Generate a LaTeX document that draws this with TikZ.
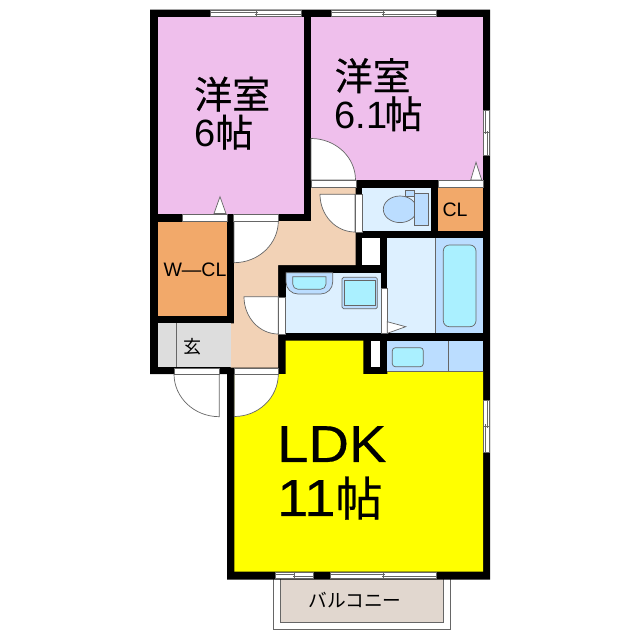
\documentclass[tikz,border=0pt]{standalone}
\usepackage{fontspec}
\setmainfont{Liberation Sans}
\newfontfamily\cjk{Noto Sans CJK JP}
\newfontfamily\cjkbig[FakeBold=0.4]{Noto Sans CJK JP}
\newfontfamily\ldkfont[FakeStretch=1.08,FakeBold=0.3]{Liberation Sans}
\definecolor{wallblack}{HTML}{000000}
\definecolor{bedpink}{HTML}{EFBFEC}
\definecolor{ldkyellow}{HTML}{FFFF00}
\definecolor{hallpeach}{HTML}{F2D2B6}
\definecolor{clorange}{HTML}{F2A96A}
\definecolor{genkangrey}{HTML}{DDDDDD}
\definecolor{wetlight}{HTML}{DDF0FF}
\definecolor{wetblue}{HTML}{BBDDFF}
\definecolor{wetcyan}{HTML}{AAF0FF}
\definecolor{balconytan}{HTML}{E1D7CF}
\definecolor{edgegrey}{HTML}{666666}
\tikzset{
  room/.style={fill=#1,draw=none},
  fixture/.style={fill=#1,draw=edgegrey,line width=0.7pt},
  doorframe/.style={fill=white,draw=edgegrey,line width=0.3pt},
  doorswing/.style={fill=white,draw=edgegrey,line width=0.7pt},
  glass/.style={fill=white,draw=edgegrey,line width=0.5pt},
  rail/.style={draw=edgegrey,line width=0.6pt},
  bigtext/.style={font=\fontsize{38}{40}\selectfont,align=left,inner sep=0pt,anchor=north west},
  smalltext/.style={font=\fontsize{19.5}{22}\selectfont,inner sep=0pt}
}
\begin{document}
\begin{tikzpicture}[x=1pt,y=-1pt]
    \useasboundingbox (0,0) rectangle (640,640);
    \fill[white] (0,0) rectangle (640,640);
    \draw[edgegrey,line width=0.7pt,fill=white] (273.5,578) rectangle (450,629.5);
    \draw[edgegrey,line width=0.7pt,fill=balconytan] (280,578) rectangle (443.5,622.5);
    \fill[wallblack] (150,9.5) -- (490,9.5) -- (490,579.5) -- (227,579.5) -- (227,374) -- (150,374) -- cycle;

    \fill[room=bedpink] (157.5,17) rectangle (303.5,213.5);
    \fill[room=bedpink] (311,17) rectangle (483,180);
    \fill[room=hallpeach] (234,221) -- (311,221) -- (311,187) -- (355.5,187) -- (355.5,265)
        -- (278,265) -- (278,367.5) -- (230.7,367.5) -- (230.7,323.3) -- (234,323.3) -- cycle;
    \fill[room=clorange] (157.5,221.5) rectangle (226.7,316);
    \fill[room=clorange] (438.3,187.5) rectangle (483,231);
    \fill[room=genkangrey] (157.5,323.3) rectangle (230.7,366.7);
    \fill[room=wetlight] (361.7,187.5) rectangle (431,231);
    \fill[room=wetlight] (285.5,272.7) rectangle (380.7,333.3);
    \fill[room=wetlight] (386.7,238.3) rectangle (435,333.3);
    \fill[room=wetblue] (435,238.3) rectangle (483,333.3);
    \fill[room=white] (362.3,238.3) rectangle (380,265);
    \fill[room=white] (370.7,340.7) rectangle (380,366.7);
    \fill[room=ldkyellow] (285.5,340.7) -- (363.3,340.7) -- (363.3,374) -- (387.3,374) -- (387.3,371)
        -- (483,371) -- (483,571.7) -- (234.3,571.7) -- (234.3,374) -- (285.5,374) -- cycle;
    \fill[room=wetblue] (387.3,340.7) rectangle (483,371);

    \draw[edgegrey,line width=0.8pt] (176,323.3) -- (176,366.7);
    \draw[edgegrey,line width=0.8pt] (435,238.3) -- (435,333.3);
    \draw[edgegrey,line width=0.8pt] (448.3,340.7) -- (448.3,371);
    \draw[edgegrey,line width=0.8pt] (387.3,371) -- (483,371);

    % doors
    \draw[doorswing] (311,138.5) arc (-90:0:44.5 and 41.5) -- (311,180) -- cycle;
    \draw[doorswing] (278.3,221) arc (0:90:44.3 and 41.7) -- (234,221) -- cycle;
    \draw[doorswing] (320,194.3) arc (180:90:35 and 37.7) -- (355,194.3) -- cycle;
    \draw[doorswing] (244,296.7) arc (180:90:34.3 and 37.3) -- (278.3,296.7) -- cycle;
    \draw[doorswing] (278.3,374) arc (0:90:44 and 42.5) -- (234.3,374) -- cycle;
    \draw[doorswing] (174,374) arc (180:90:45.3 and 42.7) -- (219.3,374) -- cycle;
    \fill[wallblack] (219.3,367.5) rectangle (234.3,374);

    \draw[doorframe] (311,180) rectangle (355.7,187);
    \draw[doorframe] (437.7,180) rectangle (483.3,187);
    \draw[doorframe] (182.3,214) rectangle (227.3,221);
    \draw[doorframe] (233.3,214) rectangle (278.3,221);
    \draw[doorframe] (355,194.3) rectangle (361.7,232);
    \draw[doorframe] (278.5,296.7) rectangle (285.5,334);
    \draw[doorframe] (380.7,288.3) rectangle (386.7,333.3);
    \draw[doorframe] (234,368) rectangle (278.5,374);
    \draw[doorframe] (174,368.3) rectangle (219.3,374);

    \draw[doorswing] (214,213.5) -- (220,196.7) -- (226,213.5) -- cycle;
    \draw[doorswing] (470.7,180) -- (476,162.3) -- (481.7,180) -- cycle;
    \draw[doorswing] (387.3,321.7) -- (405.7,326.7) -- (387.3,333.3) -- cycle;

    % windows
    \draw[glass] (210.7,10) rectangle (301,16.5);
    \draw[rail] (210.7,12) -- (258,12) (255,14) -- (301,14) (256.5,10) -- (256.5,16.5);
    \draw[glass] (331,10) rectangle (436.7,16.5);
    \draw[rail] (331,12) -- (385,12) (382,14) -- (436.7,14) (383.5,10) -- (383.5,16.5);
    \draw[glass] (483.5,110) rectangle (489.5,155);
    \draw[rail] (485.5,110) -- (485.5,134) (487.5,131) -- (487.5,155) (483.5,132.5) -- (489.5,132.5);
    \draw[glass] (483.5,400) rectangle (489.5,452.7);
    \draw[rail] (487.5,400) -- (487.5,428) (485.5,424) -- (485.5,452.7) (483.5,426) -- (489.5,426);
    \draw[glass] (275,572.5) rectangle (313.3,578.5);
    \draw[rail] (275,574.5) -- (295,574.5) (293,576.5) -- (313.3,576.5) (294,572.5) -- (294,578.5);
    \draw[glass] (330.7,572.5) rectangle (436.7,578.5);
    \draw[rail] (330.7,574.5) -- (385,574.5) (382,576.5) -- (436.7,576.5) (383.5,572.5) -- (383.5,578.5);

    % fixtures
    \draw[fixture=wetblue] (286,272.7) -- (332.7,272.7) -- (332.7,282) arc (0:90:12) -- (298,294) arc (90:180:12) -- cycle;
    \draw[fixture=wetcyan] (292.7,276.7) -- (326,276.7) -- (326,284) arc (0:90:5.3) -- (298,289.3) arc (90:180:5.3) -- cycle;
    \draw[fixture=wetblue,rounded corners=1.5pt] (342,277.3) rectangle (377.3,308.7);
    \draw[fixture=wetcyan] (344.7,280) rectangle (375,305.7);
    \draw[fixture=wetblue] (405.3,190.7) rectangle (414.7,196.7);
    \draw[fixture=wetblue] (400,209.3) ellipse (16.7 and 13.3);
    \draw[fixture=wetblue] (414.7,193.3) rectangle (428.7,225.3);
    \draw[fixture=wetcyan,rounded corners=6pt] (443.3,245) rectangle (476,326.7);
    \draw[fixture=wetcyan,rounded corners=3pt] (392.3,347.7) rectangle (423.3,366.7);

    % labels
    \node[bigtext] (bedonetext) at (194,76.5) {{\cjkbig 洋室}\\[-2pt]6{\cjkbig 帖}};
    \node[bigtext] (bedtwotext) at (334.5,58) {{\cjkbig 洋室}\\[-2pt]6.1\kern-3pt{\cjkbig 帖}};
    \node[bigtext,font=\fontsize{52}{54}\selectfont] (ldktext) at (277,426) {{\ldkfont LDK}\\{\ldkfont 11}{\cjkbig\fontsize{47}{54}\selectfont 帖}};
    \node[smalltext] (wcltext) at (195,270) {W—CL};
    \node[smalltext] (cltext) at (455,209.5) {CL};
    \node[smalltext,font=\cjk\fontsize{18}{20}\selectfont] (genkantext) at (192,346.5) {玄};
    \node[smalltext,font=\cjk\fontsize{18.7}{20}\selectfont] (balconytext) at (355,600) {バルコニー};
\end{tikzpicture}
\end{document}
